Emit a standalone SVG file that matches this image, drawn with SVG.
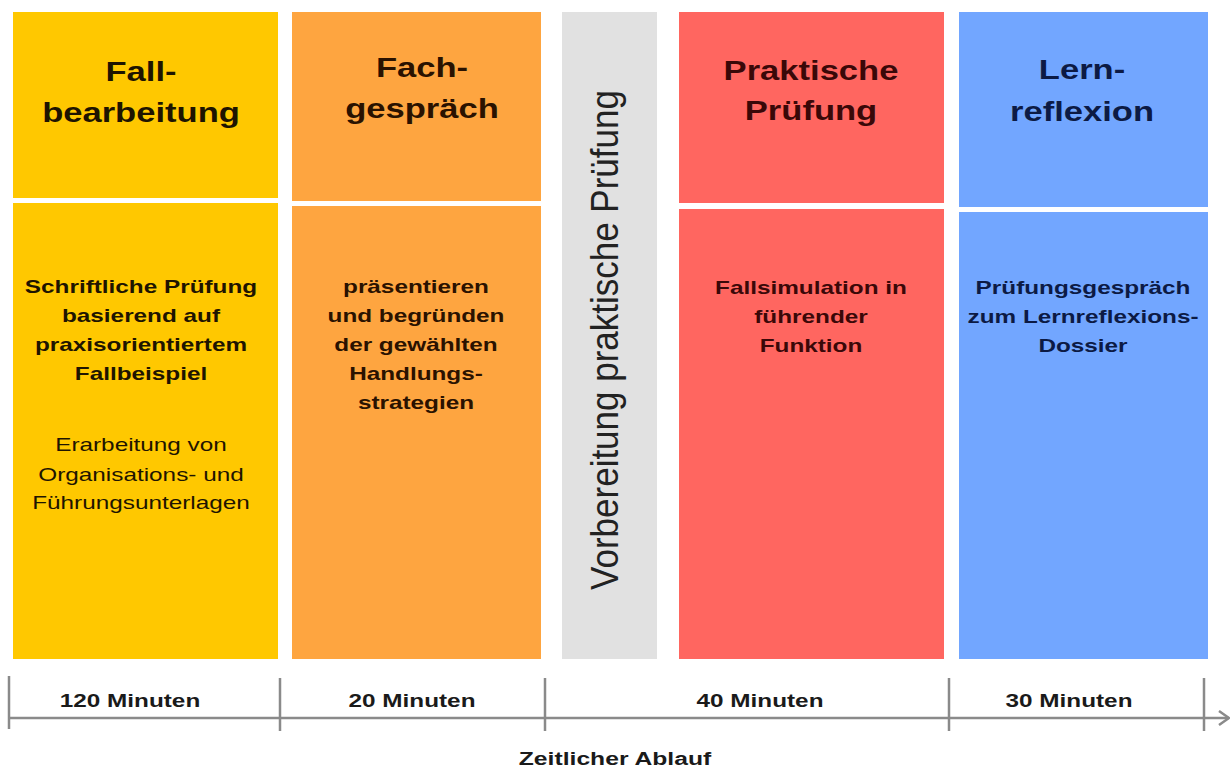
<svg xmlns="http://www.w3.org/2000/svg" width="1232" height="767" viewBox="0 0 1232 767">
<defs>
<style>
text{font-family:"Liberation Sans",Arial,sans-serif;text-anchor:middle}
.t{font-size:27px;font-weight:bold}
.b{font-size:19px;font-weight:bold}
.r{font-size:19px}
.m{font-size:19px;font-weight:bold;fill:#1a1a1a}
.k1{fill:#1e1400}
.k2{fill:#2a1200}
.k4{fill:#3a0808}
.k5{fill:#0c1a44}
.tick{stroke:#8a8a8a;stroke-width:2.5}
</style>
<marker id="arr" viewBox="0 0 12 16" refX="11" refY="8" markerWidth="12" markerHeight="16" markerUnits="userSpaceOnUse" orient="auto">
<path d="M1 1 L11 8 L1 15" fill="none" stroke="#8a8a8a" stroke-width="2.5"/>
</marker>
</defs>
<rect width="1232" height="767" fill="#ffffff"/>

<g id="fallbearbeitung">
<rect x="13" y="12" width="265" height="186" fill="#ffc800"/>
<rect x="13" y="203" width="265" height="456" fill="#ffc800"/>
<g class="k1">
<text class="t" transform="matrix(1.28 0 0 1 141 81)">Fall-</text>
<text class="t" transform="matrix(1.28 0 0 1 141 122)">bearbeitung</text>
<text class="b" transform="matrix(1.28 0 0 1 141 293)">Schriftliche Prüfung</text>
<text class="b" transform="matrix(1.28 0 0 1 141 322)">basierend auf</text>
<text class="b" transform="matrix(1.28 0 0 1 141 351)">praxisorientiertem</text>
<text class="b" transform="matrix(1.28 0 0 1 141 380)">Fallbeispiel</text>
<text class="r" transform="matrix(1.28 0 0 1 141 451)">Erarbeitung von</text>
<text class="r" transform="matrix(1.28 0 0 1 141 481)">Organisations- und</text>
<text class="r" transform="matrix(1.28 0 0 1 141 509)">Führungsunterlagen</text>
</g>
</g>

<g id="fachgespraech">
<rect x="292" y="12" width="249" height="189" fill="#fea540"/>
<rect x="292" y="206" width="249" height="453" fill="#fea540"/>
<g class="k2">
<text class="t" transform="matrix(1.28 0 0 1 422 77)">Fach-</text>
<text class="t" transform="matrix(1.28 0 0 1 422 118)">gespräch</text>
<text class="b" transform="matrix(1.28 0 0 1 416 293)">präsentieren</text>
<text class="b" transform="matrix(1.28 0 0 1 416 322)">und begründen</text>
<text class="b" transform="matrix(1.28 0 0 1 416 351)">der gewählten</text>
<text class="b" transform="matrix(1.28 0 0 1 416 380)">Handlungs-</text>
<text class="b" transform="matrix(1.28 0 0 1 416 409)">strategien</text>
</g>
</g>

<g id="vorbereitung">
<rect x="562" y="12" width="95" height="647" fill="#e1e1e1"/>
<text transform="translate(618 340) scale(1.12 1) rotate(-90)" font-size="35" fill="#222">Vorbereitung praktische Prüfung</text>
</g>

<g id="praktische-pruefung">
<rect x="679" y="12" width="265" height="191" fill="#ff6660"/>
<rect x="679" y="209" width="265" height="450" fill="#ff6660"/>
<g class="k4">
<text class="t" transform="matrix(1.28 0 0 1 811 80)">Praktische</text>
<text class="t" transform="matrix(1.28 0 0 1 811 120)">Prüfung</text>
<text class="b" transform="matrix(1.28 0 0 1 811 294)">Fallsimulation in</text>
<text class="b" transform="matrix(1.28 0 0 1 811 323)">führender</text>
<text class="b" transform="matrix(1.28 0 0 1 811 352)">Funktion</text>
</g>
</g>

<g id="lernreflexion">
<rect x="959" y="12" width="249" height="195" fill="#72a6ff"/>
<rect x="959" y="212" width="249" height="447" fill="#72a6ff"/>
<g class="k5">
<text class="t" transform="matrix(1.28 0 0 1 1082 79)">Lern-</text>
<text class="t" transform="matrix(1.28 0 0 1 1082 121)">reflexion</text>
<text class="b" transform="matrix(1.28 0 0 1 1083 294)">Prüfungsgespräch</text>
<text class="b" transform="matrix(1.28 0 0 1 1083 323)">zum Lernreflexions-</text>
<text class="b" transform="matrix(1.28 0 0 1 1083 352)">Dossier</text>
</g>
</g>

<g id="connectors">
<line x1="9" y1="718" x2="1229" y2="718" class="tick" marker-end="url(#arr)"/>
<line x1="9" y1="676" x2="9" y2="729" class="tick"/>
<line x1="280" y1="678" x2="280" y2="731" class="tick"/>
<line x1="545" y1="678" x2="545" y2="731" class="tick"/>
<line x1="949" y1="678" x2="949" y2="731" class="tick"/>
<line x1="1204" y1="678" x2="1204" y2="731" class="tick"/>
</g>

<g id="timeline-labels">
<text class="m" transform="matrix(1.28 0 0 1 130 707)">120 Minuten</text>
<text class="m" transform="matrix(1.28 0 0 1 412 707)">20 Minuten</text>
<text class="m" transform="matrix(1.28 0 0 1 760 707)">40 Minuten</text>
<text class="m" transform="matrix(1.28 0 0 1 1069 707)">30 Minuten</text>
<text class="m" transform="matrix(1.3 0 0 1 615 765)" font-size="20">Zeitlicher Ablauf</text>
</g>
</svg>
